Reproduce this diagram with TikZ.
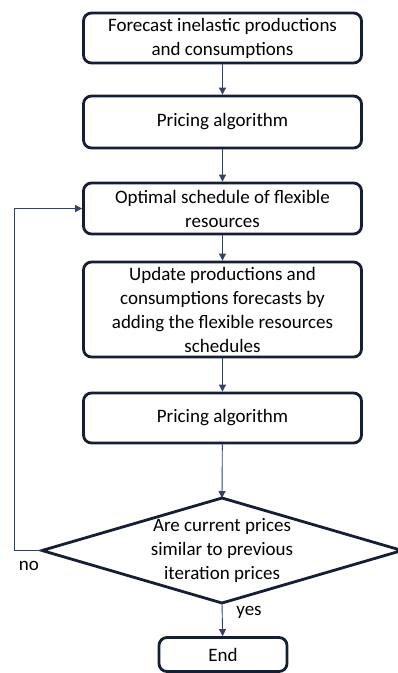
\documentclass[tikz,border=0pt]{standalone}
\usepackage{fontspec}
\setmainfont{Carlito}
\usetikzlibrary{arrows.meta,shapes.geometric}
\definecolor{boxline}{RGB}{22,30,52}
\definecolor{conn}{RGB}{52,66,100}
\tikzset{
  stepbox/.style={draw=boxline, line width=2.8pt, rounded corners=8pt, fill=white,
    minimum width=278pt, align=center, inner sep=0pt,
    font=\fontsize{19}{24}\selectfont, text=black},
  conn/.style={draw=conn, line width=0.9pt, -{Triangle[width=7pt,length=7pt]}},
  lbl/.style={font=\fontsize{19}{24}\selectfont, text=black, inner sep=0pt}
}
\begin{document}
\begin{tikzpicture}[x=1pt,y=1pt]
\useasboundingbox (0,0) rectangle (398,-673);
\node[stepbox, minimum height=50pt] (b1) at (222.5,-38) {Forecast inelastic productions\\and consumptions};
\node[stepbox, minimum height=52pt] (b2) at (222.5,-122) {Pricing algorithm};
\node[stepbox, minimum height=51pt] (b3) at (222.5,-208.5) {Optimal schedule of flexible\\resources};
\node[stepbox, minimum height=95pt] (b4) at (222.5,-309.5) {Update productions and\\consumptions forecasts by\\adding the flexible resources\\schedules};
\node[stepbox, minimum height=50pt] (b5) at (222.5,-418) {Pricing algorithm};
\path[draw=boxline, line width=2.8pt, line join=miter]
  (222,-498) coordinate (dn) -- (402,-550.5) coordinate (de) -- (222,-603) coordinate (ds) -- (42,-550.5) coordinate (dw) -- cycle;
\node[lbl, align=center] (d) at (222,-550.5) {Are current prices\\similar to previous\\iteration prices};
\node[stepbox, minimum width=128pt, minimum height=34pt] (end) at (223,-654.5) {End};
\draw[conn] (b1) -- (b2);
\draw[conn] (b2) -- (b3);
\draw[conn] (b3) -- (b4);
\draw[conn] (b4) -- (b5);
\draw[conn] (b5) -- (dn);
\draw[conn] (ds) -- (end);
\coordinate (fb) at (14,-550.5);
\draw[conn] (dw) -- (fb) |- (b3.west);
\node[lbl] (no) at (29,-566) {no};
\node[lbl] (yes) at (249,-612) {yes};
\end{tikzpicture}
\end{document}
